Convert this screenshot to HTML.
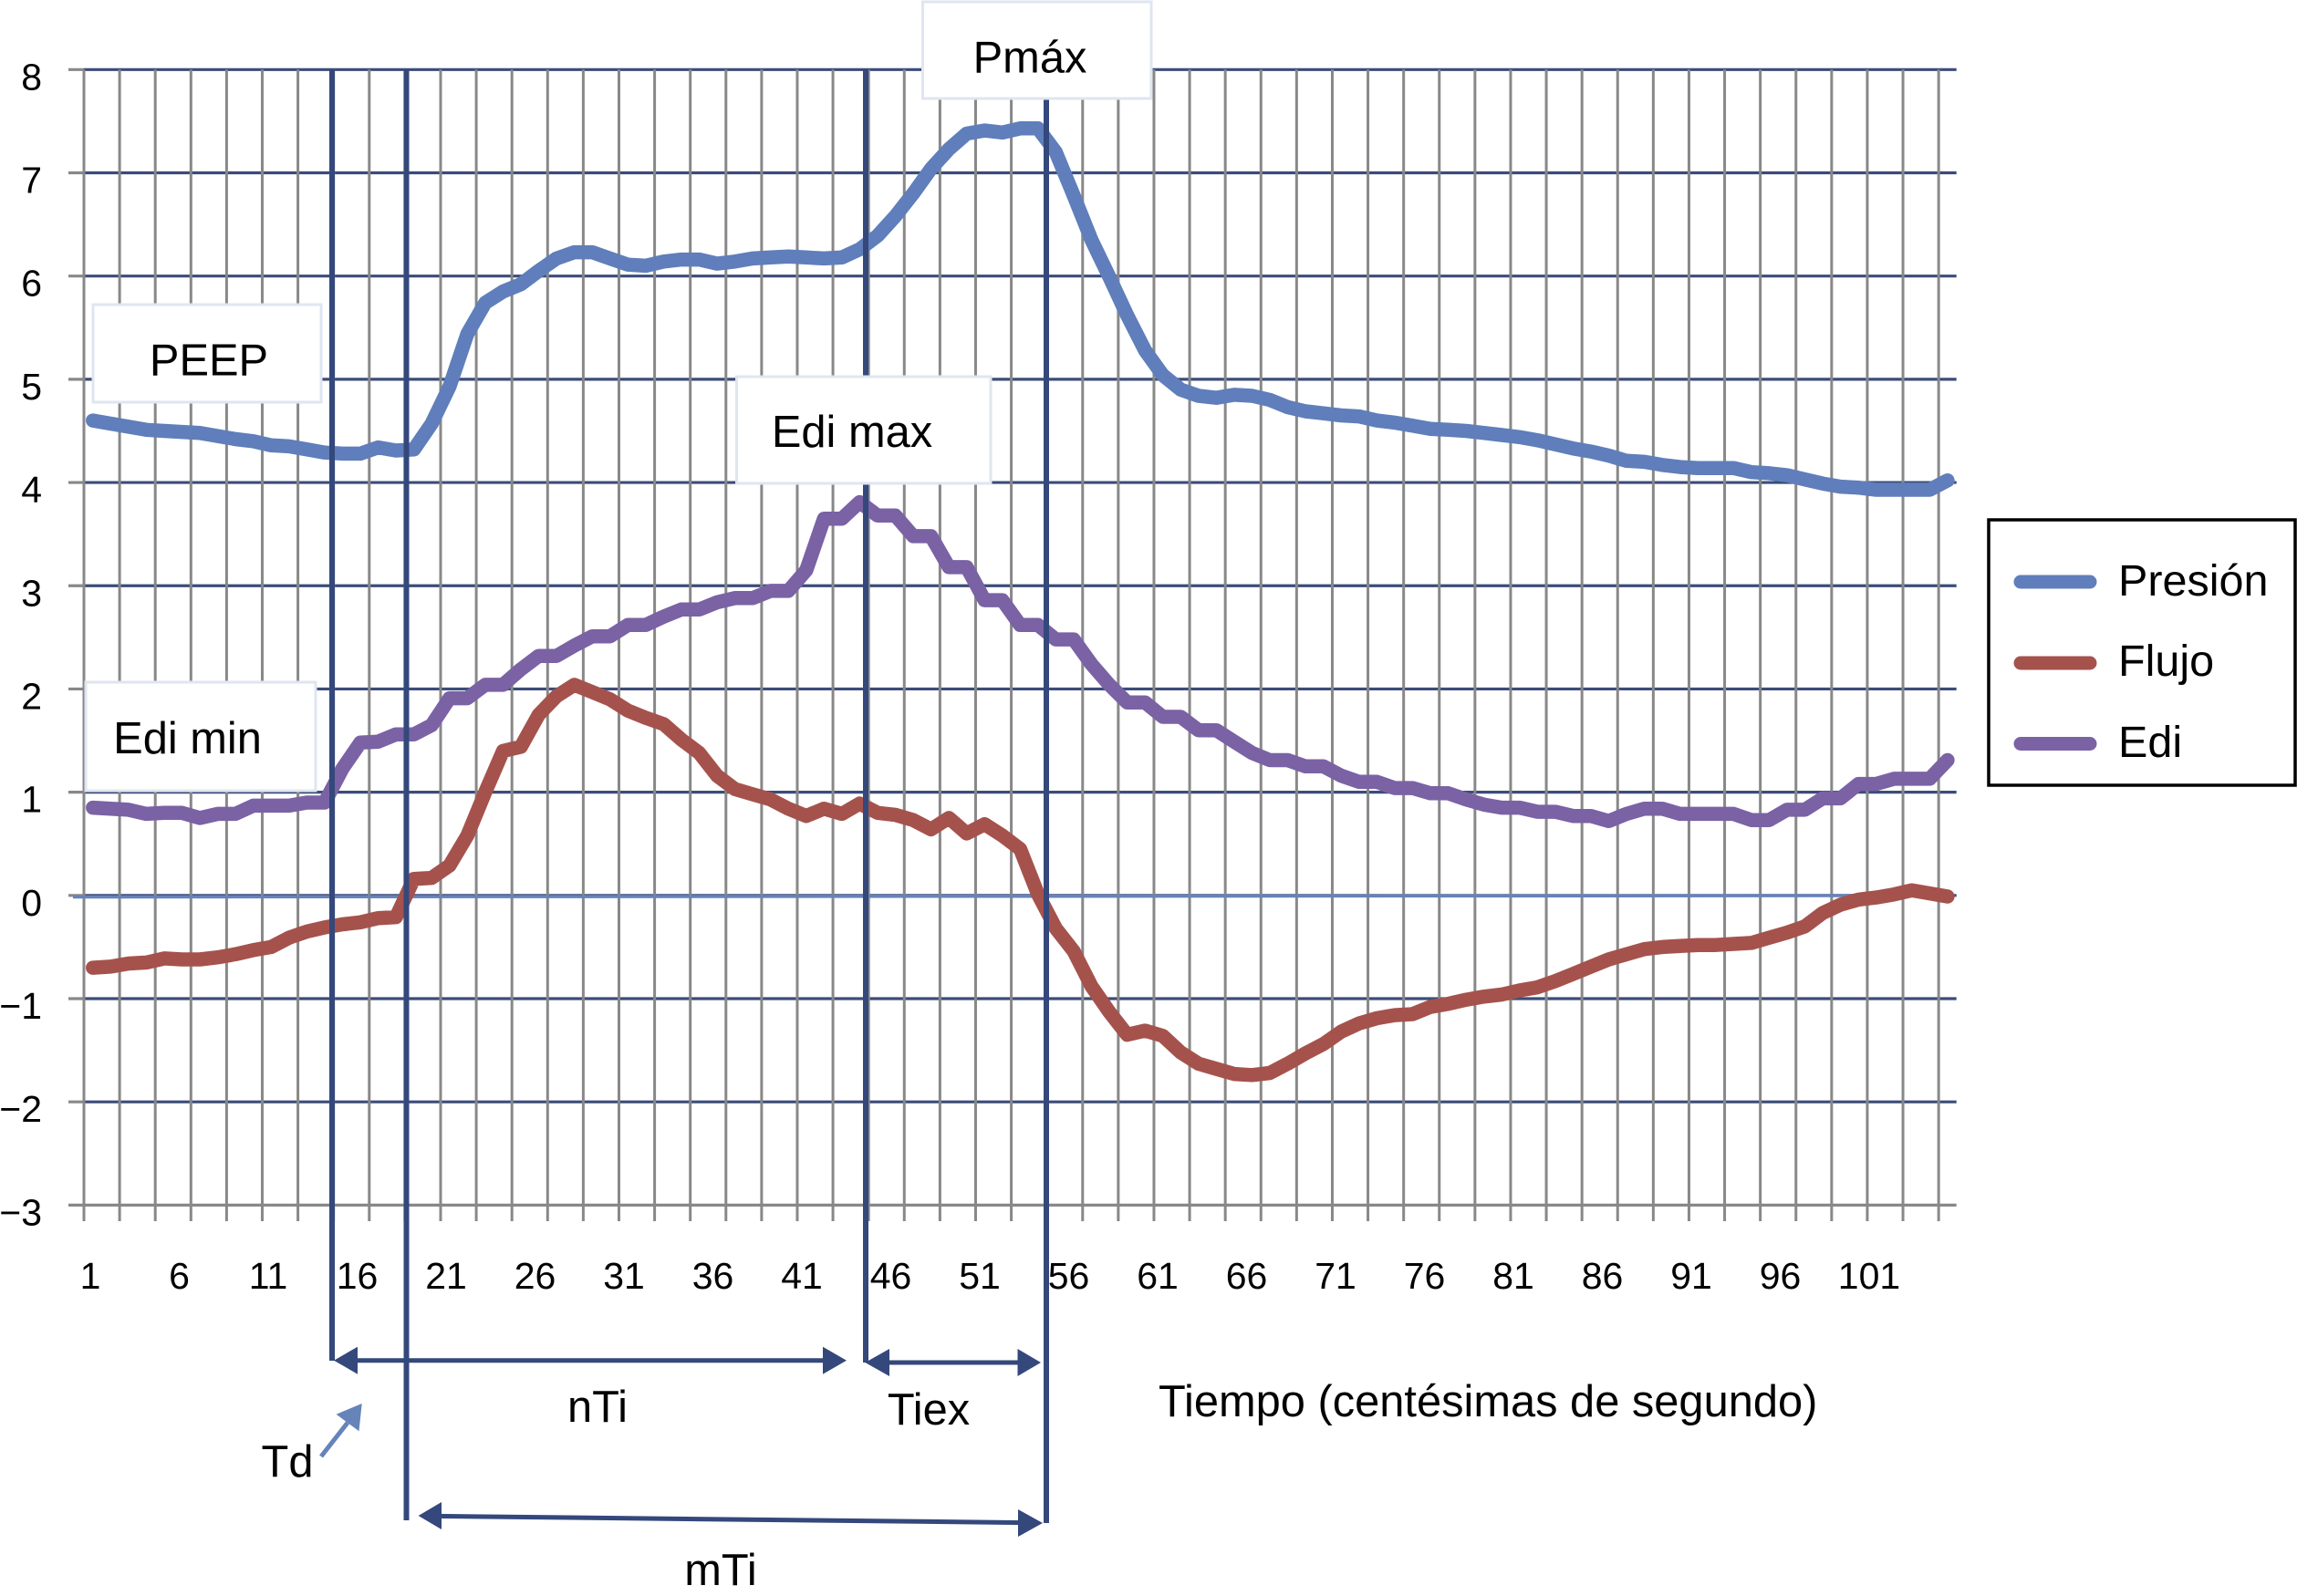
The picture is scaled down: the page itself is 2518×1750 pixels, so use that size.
<!DOCTYPE html>
<html lang="es">
<head>
<meta charset="utf-8">
<title>Presión, Flujo y Edi</title>
<style>
html,body{margin:0;padding:0;background:#fff;}
body{width:2518px;height:1750px;overflow:hidden;}
svg{display:block;}
text{font-family:"Liberation Sans",Arial,sans-serif;fill:#000;}
</style>
</head>
<body>
<svg id="chart" xmlns="http://www.w3.org/2000/svg" width="2518" height="1750" viewBox="0 0 2518 1750">
  <rect x="0" y="0" width="2518" height="1750" fill="#ffffff"/>
  <g id="grid-h"></g>
  <g id="grid-v"></g>
  <line x1="80" y1="983.5" x2="2089" y2="982" stroke="#6683ba" stroke-width="3.5"/>
  <g id="series"></g>
  <g id="y-labels" font-size="41" text-anchor="end"></g>
  <g id="x-labels" font-size="41" text-anchor="middle"></g>

  <g stroke="#34487c" stroke-width="6">
    <line x1="364" y1="76" x2="364" y2="1492"/>
    <line x1="445.5" y1="76" x2="445.5" y2="1667"/>
    <line x1="949" y1="76" x2="949" y2="1494"/>
    <line x1="1147" y1="100" x2="1147" y2="1670"/>
  </g>

  <g fill="#34487c" stroke="none">
    <line x1="385" y1="1491.7" x2="910" y2="1491.7" stroke="#34487c" stroke-width="5"/>
    <polygon points="366,1491.7 392,1476.7 392,1506.7"/>
    <polygon points="928,1491.7 902,1476.7 902,1506.7"/>
  </g>
  <g fill="#34487c" stroke="none">
    <line x1="970" y1="1494" x2="1120" y2="1494" stroke="#34487c" stroke-width="5"/>
    <polygon points="948.4,1494 975,1479 975,1509"/>
    <polygon points="1141,1494 1115.5,1479 1115.5,1509"/>
  </g>
  <g fill="#34487c" stroke="none">
    <line x1="478" y1="1662.4" x2="1122" y2="1669.6" stroke="#34487c" stroke-width="5"/>
    <polygon points="458.6,1662 484,1647 484,1677"/>
    <polygon points="1143,1670 1116,1655 1116,1685"/>
  </g>
  <g fill="#6683ba">
    <line x1="352" y1="1597" x2="381" y2="1560" stroke="#6683ba" stroke-width="5"/>
    <polygon points="396.7,1539 368.6,1550.7 393.5,1569.3"/>
  </g>

  <g>
    <rect x="102" y="334" width="250" height="107" fill="#ffffff" stroke="#dfe6f1" stroke-width="3"/>
    <text x="229" y="411.5" font-size="48.8" text-anchor="middle">PEEP</text>
  </g>
  <g>
    <rect x="1011.5" y="2" width="250.5" height="106" fill="#ffffff" stroke="#dfe6f1" stroke-width="3"/>
    <text x="1129" y="79.5" font-size="48.8" text-anchor="middle">Pmáx</text>
  </g>
  <g>
    <rect x="807.5" y="413" width="278.5" height="117" fill="#ffffff" stroke="#dfe6f1" stroke-width="3"/>
    <text x="934" y="490" font-size="48.8" text-anchor="middle">Edi max</text>
  </g>
  <g>
    <rect x="94" y="748" width="252" height="119" fill="#ffffff" stroke="#dfe6f1" stroke-width="3"/>
    <text x="205.5" y="826" font-size="48.8" text-anchor="middle">Edi min</text>
  </g>

  <text x="1270" y="1553" font-size="48.8">Tiempo (centésimas de segundo)</text>
  <text x="655" y="1559" font-size="48.8" text-anchor="middle">nTi</text>
  <text x="1018" y="1562" font-size="48.8" text-anchor="middle">Tiex</text>
  <text x="315" y="1619" font-size="48.8" text-anchor="middle">Td</text>
  <text x="790" y="1738" font-size="48.8" text-anchor="middle">mTi</text>

  <g>
    <rect x="2180" y="570" width="336" height="291" fill="#ffffff" stroke="#000000" stroke-width="3.5"/>
    <g>
      <line x1="2215" y1="638" x2="2291" y2="638" stroke="#5f7ebb" stroke-width="15" stroke-linecap="round"/>
      <text x="2322" y="653" font-size="48.5">Presión</text>
    </g>
    <g>
      <line x1="2215" y1="727" x2="2291" y2="727" stroke="#a5524d" stroke-width="15" stroke-linecap="round"/>
      <text x="2322" y="741" font-size="48.5">Flujo</text>
    </g>
    <g>
      <line x1="2215" y1="815.5" x2="2291" y2="815.5" stroke="#7a62a5" stroke-width="15" stroke-linecap="round"/>
      <text x="2322" y="830" font-size="48.5">Edi</text>
    </g>
  </g>
</svg>

<script>
const yTickValues = [8, 7, 6, 5, 4, 3, 2, 1, 0, -1, -2, -3];
const xTickLabels = [1, 6, 11, 16, 21, 26, 31, 36, 41, 46, 51, 56, 61, 66, 71, 76, 81, 86, 91, 96, 101];
const presion = [
  4.60,4.57,4.54,4.51,4.50,4.49,4.48,4.45,4.42,4.40,4.36,4.35,4.32,4.29,4.28,4.28,4.34,4.31,4.32,4.57,
  4.93,5.44,5.74,5.85,5.92,6.05,6.17,6.23,6.23,6.17,6.11,6.10,6.14,6.16,6.16,6.12,6.14,6.17,6.18,6.19,
  6.18,6.17,6.18,6.26,6.39,6.58,6.80,7.04,7.23,7.38,7.41,7.39,7.43,7.43,7.20,6.78,6.35,5.99,5.62,5.28,
  5.04,4.90,4.84,4.82,4.85,4.84,4.80,4.73,4.69,4.67,4.65,4.64,4.60,4.58,4.55,4.52,4.51,4.50,4.48,4.46,
  4.44,4.41,4.37,4.33,4.30,4.26,4.21,4.20,4.17,4.15,4.14,4.14,4.14,4.10,4.09,4.07,4.03,3.99,3.96,3.95,
  3.93,3.93,3.93,3.93,4.02
];
const flujo = [
  -0.70,-0.69,-0.66,-0.65,-0.61,-0.62,-0.62,-0.60,-0.57,-0.53,-0.50,-0.41,-0.35,-0.31,-0.28,-0.26,-0.22,-0.21,0.16,0.17,
  0.29,0.58,1.00,1.40,1.44,1.75,1.93,2.04,1.97,1.90,1.79,1.72,1.66,1.51,1.38,1.16,1.03,0.98,0.93,0.84,
  0.77,0.84,0.79,0.89,0.80,0.78,0.73,0.64,0.75,0.60,0.69,0.58,0.45,0.01,-0.32,-0.54,-0.88,-1.13,-1.35,-1.31,
  -1.36,-1.52,-1.63,-1.68,-1.73,-1.74,-1.72,-1.63,-1.53,-1.44,-1.32,-1.24,-1.19,-1.16,-1.15,-1.08,-1.05,-1.01,-0.98,-0.96,
  -0.92,-0.89,-0.83,-0.76,-0.69,-0.62,-0.57,-0.52,-0.50,-0.49,-0.48,-0.48,-0.47,-0.46,-0.41,-0.36,-0.30,-0.17,-0.09,-0.04,
  -0.02,0.01,0.05,0.02,-0.01
];
const edi = [
  0.85,0.84,0.83,0.79,0.80,0.80,0.75,0.79,0.79,0.87,0.87,0.87,0.90,0.90,1.23,1.48,1.49,1.56,1.56,1.65,
  1.91,1.91,2.04,2.04,2.19,2.32,2.32,2.42,2.51,2.51,2.62,2.62,2.70,2.77,2.77,2.84,2.88,2.88,2.95,2.95,
  3.15,3.65,3.65,3.81,3.68,3.68,3.48,3.48,3.18,3.18,2.86,2.86,2.62,2.62,2.48,2.48,2.24,2.04,1.87,1.87,
  1.73,1.73,1.60,1.60,1.49,1.38,1.31,1.31,1.25,1.25,1.16,1.10,1.10,1.04,1.04,0.99,0.99,0.93,0.88,0.85,
  0.85,0.81,0.81,0.77,0.77,0.72,0.79,0.84,0.84,0.79,0.79,0.79,0.79,0.73,0.73,0.83,0.83,0.94,0.94,1.08,
  1.08,1.13,1.13,1.13,1.31
];
const categoryCount = 105;
const xTickEvery = 2;

const plotLeft = 92;
const plotRight = 2144.7;
const plotTop = 76.3;
const plotBottom = 1321.4;
const NS = 'http://www.w3.org/2000/svg';
const yMax = yTickValues[0];
const yMin = yTickValues[yTickValues.length - 1];

function xScale(cat) {
  return plotLeft + (cat - 0.5) * (plotRight - plotLeft) / categoryCount;
}
function xEdge(cat) {
  return plotLeft + cat * (plotRight - plotLeft) / categoryCount;
}
function yScale(v) {
  return plotTop + (yMax - v) * (plotBottom - plotTop) / (yMax - yMin);
}
function xLabelScale(cat) {
  return 99 + (cat - 1) * 19.5;
}
function make(tag) {
  return document.createElementNS(NS, tag);
}

const gridH = document.getElementById('grid-h');
yTickValues.forEach(function (v) {
  const line = make('line');
  
  
  line.setAttribute('x1', plotLeft);
  line.setAttribute('x2', plotRight);
  line.setAttribute('y1', yScale(v));
  line.setAttribute('y2', yScale(v));
  line.setAttribute('stroke', v === yMin ? '#888888' : '#3b4c7a');
  line.setAttribute('stroke-width', 3.2);
  gridH.appendChild(line);
  const stub = make('line');
  
  
  stub.setAttribute('x1', 75);
  stub.setAttribute('x2', plotLeft);
  stub.setAttribute('y1', yScale(v));
  stub.setAttribute('y2', yScale(v));
  stub.setAttribute('stroke', '#888888');
  stub.setAttribute('stroke-width', 3.2);
  gridH.appendChild(stub);
});

const gridV = document.getElementById('grid-v');
for (let c = 0; c < categoryCount; c += xTickEvery) {
  const line = make('line');
  
  
  line.setAttribute('x1', xEdge(c));
  line.setAttribute('x2', xEdge(c));
  line.setAttribute('y1', plotTop);
  line.setAttribute('y2', 1339);
  line.setAttribute('stroke', '#888888');
  line.setAttribute('stroke-width', 3);
  gridV.appendChild(line);
}

const seriesGroup = document.getElementById('series');
function drawSeries(values, color, name) {
  const pts = values.map(function (v, i) {
    return xScale(i + 1).toFixed(1) + ',' + yScale(v).toFixed(1);
  }).join(' ');
  const poly = make('polyline');
  
  
  poly.setAttribute('points', pts);
  poly.setAttribute('fill', 'none');
  poly.setAttribute('stroke', color);
  poly.setAttribute('stroke-width', 15.5);
  poly.setAttribute('stroke-linecap', 'round');
  poly.setAttribute('stroke-linejoin', 'round');
  seriesGroup.appendChild(poly);
}
drawSeries(presion, '#5f7ebb', 'series-presion');
drawSeries(flujo, '#a5524d', 'series-flujo');
drawSeries(edi, '#7a62a5', 'series-edi');

const yLabels = document.getElementById('y-labels');
yTickValues.forEach(function (v) {
  const t = make('text');
  
  
  t.setAttribute('x', 46);
  t.setAttribute('y', yScale(v) + 22);
  t.textContent = v < 0 ? '\u2212' + Math.abs(v) : String(v);
  yLabels.appendChild(t);
});

const xLabels = document.getElementById('x-labels');
xTickLabels.forEach(function (c) {
  const t = make('text');
  
  
  t.setAttribute('x', xLabelScale(c));
  t.setAttribute('y', 1413);
  t.textContent = String(c);
  xLabels.appendChild(t);
});
</script>
</body>
</html>
